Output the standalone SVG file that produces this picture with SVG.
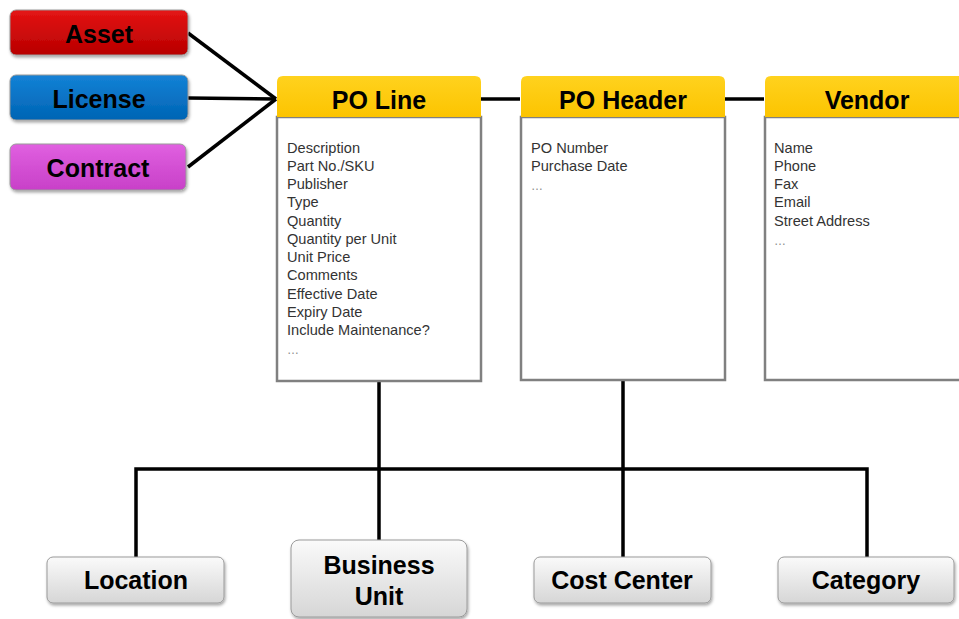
<svg xmlns="http://www.w3.org/2000/svg" width="959" height="619" viewBox="0 0 959 619">
<defs>
<linearGradient id="gRed" x1="0" y1="0" x2="0" y2="1"><stop offset="0" stop-color="#e41414"/><stop offset="1" stop-color="#b80000"/></linearGradient>
<linearGradient id="gBlue" x1="0" y1="0" x2="0" y2="1"><stop offset="0" stop-color="#1482d6"/><stop offset="1" stop-color="#0064b4"/></linearGradient>
<linearGradient id="gMag" x1="0" y1="0" x2="0" y2="1"><stop offset="0" stop-color="#e060e0"/><stop offset="1" stop-color="#c840c8"/></linearGradient>
<linearGradient id="gYel" x1="0" y1="0" x2="0" y2="1"><stop offset="0" stop-color="#ffd21e"/><stop offset="1" stop-color="#fcc400"/></linearGradient>
<linearGradient id="gGrey" x1="0" y1="0" x2="0" y2="1"><stop offset="0" stop-color="#fafafa"/><stop offset="1" stop-color="#d6d6d6"/></linearGradient>
<filter id="sh" x="-10%" y="-20%" width="130%" height="150%"><feDropShadow dx="1" dy="2" stdDeviation="1.5" flood-color="#000" flood-opacity="0.35"/></filter>
</defs>
<style>
.ttl{font-family:"Liberation Sans",Arial,sans-serif;font-weight:bold;font-size:25px;fill:#000;text-anchor:middle}
.att{font-family:"Liberation Sans",Arial,sans-serif;font-size:14.6px;fill:#333}
.dots{font-family:"Liberation Sans",Arial,sans-serif;font-size:12px;fill:#888}
.conn{stroke:#000;stroke-width:3.5;fill:none}
.body{fill:#fff;stroke:#808080;stroke-width:2.5}
.card{stroke:#9a9a9a;stroke-width:1;filter:url(#sh)}
</style>
<rect width="959" height="619" fill="#fff"/>
<g id="connectors">
<line class="conn" x1="188" y1="33" x2="276" y2="99"/>
<line class="conn" x1="188" y1="98" x2="276" y2="99"/>
<line class="conn" x1="188" y1="167" x2="276" y2="99"/>
<line class="conn" x1="481" y1="99" x2="520" y2="99"/>
<line class="conn" x1="725" y1="99" x2="764" y2="99"/>
<line class="conn" x1="379" y1="381" x2="379" y2="541"/>
<line class="conn" x1="623" y1="380" x2="623" y2="558"/>
<polyline class="conn" points="136,558 136,469 867,469 867,558"/>
</g>
<g id="asset"><rect class="card" x="10" y="10" width="178" height="45" rx="6" fill="url(#gRed)"/><text class="ttl" x="99" y="43">Asset</text></g>
<g id="license"><rect class="card" x="10" y="75" width="178" height="45" rx="6" fill="url(#gBlue)"/><text class="ttl" x="99" y="108">License</text></g>
<g id="contract"><rect class="card" x="10" y="144" width="176" height="46" rx="6" fill="url(#gMag)"/><text class="ttl" x="98" y="177">Contract</text></g>
<g id="po-line">
<rect class="body" x="277" y="117" width="204" height="264"/>
<path d="M277,117 V82 Q277,76 283,76 H475 Q481,76 481,82 V117 Z" fill="url(#gYel)"/>
<text class="ttl" x="379" y="109">PO Line</text>
<text class="att" x="287" y="153">Description</text>
<text class="att" x="287" y="171">Part No./SKU</text>
<text class="att" x="287" y="189">Publisher</text>
<text class="att" x="287" y="207">Type</text>
<text class="att" x="287" y="226">Quantity</text>
<text class="att" x="287" y="244">Quantity per Unit</text>
<text class="att" x="287" y="262">Unit Price</text>
<text class="att" x="287" y="280">Comments</text>
<text class="att" x="287" y="299">Effective Date</text>
<text class="att" x="287" y="317">Expiry Date</text>
<text class="att" x="287" y="335">Include Maintenance?</text>
<text class="dots" x="287" y="354">…</text>
</g>
<g id="po-header">
<rect class="body" x="521" y="117" width="204" height="263"/>
<path d="M521,117 V82 Q521,76 527,76 H719 Q725,76 725,82 V117 Z" fill="url(#gYel)"/>
<text class="ttl" x="623" y="109">PO Header</text>
<text class="att" x="531" y="153">PO Number</text>
<text class="att" x="531" y="171">Purchase Date</text>
<text class="dots" x="531" y="190">…</text>
</g>
<g id="vendor">
<rect class="body" x="765" y="117" width="204" height="263"/>
<path d="M765,117 V82 Q765,76 771,76 H963 Q969,76 969,82 V117 Z" fill="url(#gYel)"/>
<text class="ttl" x="867" y="109">Vendor</text>
<text class="att" x="774" y="153">Name</text>
<text class="att" x="774" y="171">Phone</text>
<text class="att" x="774" y="189">Fax</text>
<text class="att" x="774" y="207">Email</text>
<text class="att" x="774" y="226">Street Address</text>
<text class="dots" x="774" y="245">…</text>
</g>
<g id="location"><rect class="card" x="47" y="557" width="177" height="46" rx="6" fill="url(#gGrey)"/><text class="ttl" x="136" y="589">Location</text></g>
<g id="business-unit"><rect class="card" x="291" y="540" width="176" height="77" rx="8" fill="url(#gGrey)"/><text class="ttl" x="379" y="574">Business</text><text class="ttl" x="379" y="605">Unit</text></g>
<g id="cost-center"><rect class="card" x="534" y="557" width="177" height="46" rx="6" fill="url(#gGrey)"/><text class="ttl" x="622" y="589">Cost Center</text></g>
<g id="category"><rect class="card" x="778" y="557" width="176" height="46" rx="6" fill="url(#gGrey)"/><text class="ttl" x="866" y="589">Category</text></g>
</svg>
